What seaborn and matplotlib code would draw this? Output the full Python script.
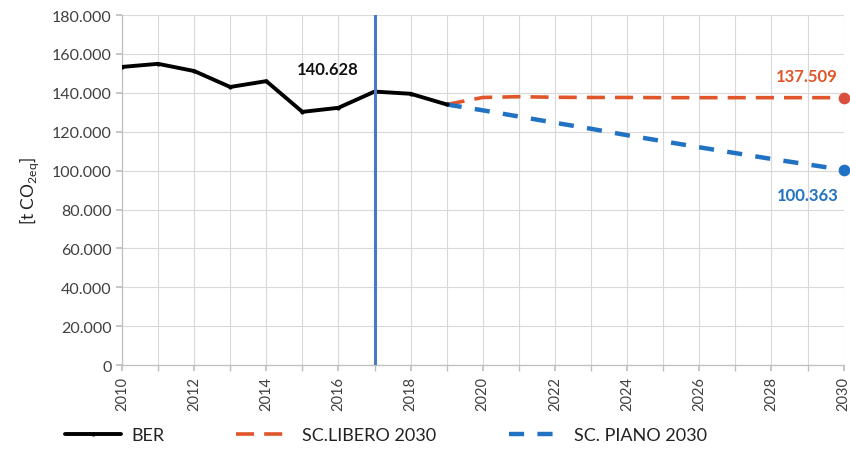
import matplotlib
matplotlib.use("Agg")
import matplotlib.pyplot as plt
import seaborn as sns
import pandas as pd
from matplotlib.ticker import FuncFormatter, MultipleLocator

sns.set_theme(style="white")
plt.rcParams['font.family'] = ['Lato', 'DejaVu Sans']

ber_years = [2010, 2011, 2012, 2013, 2014, 2015, 2016, 2017, 2018, 2019]
ber_values = [153300, 154900, 151200, 143000, 146000, 130200, 132300, 140628, 139500, 134000]

sc_years = [2019, 2020, 2021, 2022, 2023, 2024, 2025, 2026, 2027, 2028, 2029, 2030]
libero_values = [134000, 137600, 138000, 137700, 137600, 137600, 137500, 137500, 137500, 137500, 137500, 137509]
piano_values = [134000, 131000, 127800, 124600, 121500, 118200, 115100, 112000, 109000, 106000, 103200, 100363]

c_black = "#000000"
c_orange = "#E0562A"
c_orange_dot = "#D9503F"
c_blue = "#2272C3"
c_vline = "#4A78C4"

df_ber = pd.DataFrame({"year": ber_years, "value": ber_values})
df_lib = pd.DataFrame({"year": sc_years, "value": libero_values})
df_pia = pd.DataFrame({"year": sc_years, "value": piano_values})

fig = plt.figure(figsize=(8.5, 4.52), dpi=100)
ax = fig.add_axes([0.1435, 0.19, 0.849, 0.7746])

sns.lineplot(data=df_ber, x="year", y="value", ax=ax, color=c_black, lw=2.8,
             marker="o", markersize=3, markeredgewidth=0, label="BER", zorder=4)
sns.lineplot(data=df_lib, x="year", y="value", ax=ax, color=c_orange, lw=2.6,
             label="SC.LIBERO 2030", zorder=3)
sns.lineplot(data=df_pia, x="year", y="value", ax=ax, color=c_blue, lw=3.2,
             label="SC. PIANO 2030", zorder=3)
ax.lines[1].set_linestyle((0, (5.0, 2.8)))
ax.lines[2].set_linestyle((0, (3.4, 3.0)))

ax.scatter([sc_years[-1]], [libero_values[-1]], s=55, color=c_orange_dot, zorder=6, clip_on=False)
ax.scatter([sc_years[-1]], [piano_values[-1]], s=55, color=c_blue, zorder=6, clip_on=False)

ax.axvline(2017, color=c_vline, lw=2.2, zorder=5)

ax.set_xlim(2010, 2030)
ax.set_ylim(0, 180000)
ax.xaxis.set_major_locator(MultipleLocator(2))
ax.xaxis.set_minor_locator(MultipleLocator(1))
ax.yaxis.set_major_locator(MultipleLocator(20000))

def fmt(v, pos):
    if v == 0:
        return "0"
    return f"{int(v):,}".replace(",", ".")
ax.yaxis.set_major_formatter(FuncFormatter(fmt))

ax.grid(True, which="both", axis="x", color="#D9D9D9", lw=0.8)
ax.grid(True, which="major", axis="y", color="#D9D9D9", lw=0.8)
ax.set_axisbelow(True)
for s in ["top", "right"]:
    ax.spines[s].set_visible(False)
for s in ["left", "bottom"]:
    ax.spines[s].set_color("#BFBFBF")
    ax.spines[s].set_linewidth(0.9)

ax.tick_params(axis="x", which="both", direction="out", length=4, color="#BFBFBF",
               labelsize=10.5, labelcolor="#404040", labelrotation=90, bottom=True)
ax.tick_params(axis="y", direction="out", length=4, color="#BFBFBF", labelsize=11.5,
               labelcolor="#404040", left=True)
ax.set_xlabel("")
ax.set_ylabel(r"[t CO$_{\mathregular{2eq}}$]", fontsize=12.5, color="#222222", labelpad=8)

ax.text(2015.7, 152000, "140.628", fontsize=12, fontweight="bold", color="#111111",
        ha="center", va="center")
ax.text(2029.85, 148500, "137.509", fontsize=12, fontweight="bold", color=c_orange,
        ha="right", va="center")
ax.text(2029.85, 87500, "100.363", fontsize=12, fontweight="bold", color=c_blue,
        ha="right", va="center")

handles, labels = ax.get_legend_handles_labels()
ax.get_legend().remove()
leg = fig.legend(handles, labels, loc="center left", bbox_to_anchor=(0.0765, 0.035), ncol=3,
                 frameon=False, fontsize=13, handlelength=3.1, columnspacing=4.0,
                 handletextpad=0.55, borderaxespad=0, borderpad=0)
for t in leg.get_texts():
    t.set_color("#222222")

fig.savefig("out.png", dpi=100)
